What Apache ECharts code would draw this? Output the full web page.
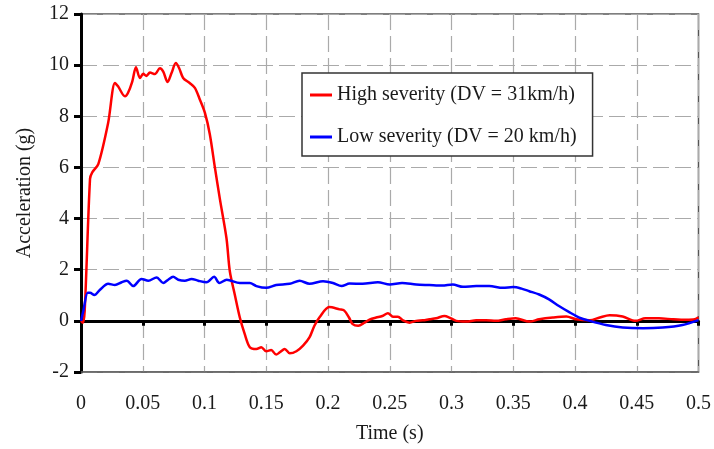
<!DOCTYPE html>
<html>
<head>
<meta charset="utf-8">
<script src="https://cdn.jsdelivr.net/npm/echarts@6/dist/echarts.min.js"></script>
<style>
  html, body { margin: 0; padding: 0; background: #fff; }
  #chart { width: 714px; height: 449px; }
</style>
</head>
<body>
<div id="chart"></div>
<script>
// [time (s), acceleration (g)]
const highSeverity = [
  [0, 0], [0.0015, -0.07], [0.003, 0.4], [0.0073, 5.55], [0.0091, 5.81], [0.014, 6.13],
  [0.022, 7.75], [0.0275, 9.3], [0.03, 9.17], [0.0356, 8.78], [0.038, 8.91], [0.0415, 9.36],
  [0.0445, 9.92], [0.0477, 9.5], [0.0504, 9.66], [0.053, 9.58], [0.0558, 9.71], [0.0598, 9.65],
  [0.0639, 9.88], [0.0666, 9.75], [0.0701, 9.34], [0.0733, 9.69], [0.0768, 10.08], [0.0795, 9.88],
  [0.0827, 9.5], [0.088, 9.3], [0.0922, 9.11], [0.0962, 8.66], [0.1003, 8.14], [0.1043, 7.3],
  [0.1084, 6.0], [0.1124, 4.78], [0.1178, 3.23], [0.1205, 1.94], [0.1245, 1.03], [0.1286, 0.13],
  [0.1326, -0.52], [0.1367, -1.03], [0.142, -1.1], [0.146, -1.03], [0.15, -1.19], [0.154, -1.14],
  [0.158, -1.32], [0.161, -1.23], [0.165, -1.1], [0.169, -1.27], [0.1744, -1.19], [0.1798, -0.97],
  [0.185, -0.65], [0.189, -0.19], [0.1933, 0.15], [0.201, 0.54], [0.2094, 0.45], [0.213, 0.41],
  [0.217, 0.13], [0.22, -0.13], [0.2245, -0.19], [0.2296, -0.07], [0.234, 0.06], [0.239, 0.13],
  [0.244, 0.19], [0.2485, 0.3], [0.2526, 0.16], [0.2566, 0.16], [0.2607, 0.02], [0.266, -0.07],
  [0.2714, 0], [0.2768, 0.02], [0.282, 0.06], [0.2876, 0.1], [0.2943, 0.19], [0.2983, 0.13],
  [0.3038, 0], [0.312, -0.03], [0.32, 0.02], [0.328, 0.02], [0.336, 0], [0.344, 0.06],
  [0.352, 0.1], [0.363, -0.03], [0.371, 0.06], [0.382, 0.13], [0.393, 0.17], [0.401, 0.06],
  [0.412, 0.02], [0.42, 0.13], [0.428, 0.22], [0.4386, 0.17], [0.449, 0], [0.457, 0.1],
  [0.468, 0.1], [0.4796, 0.06], [0.49, 0.04], [0.497, 0.06], [0.5, 0.14]
];
const lowSeverity = [
  [0, 0], [0.0019, 0.39], [0.0054, 1.1], [0.0073, 1.1], [0.0108, 1.01], [0.0154, 1.22],
  [0.022, 1.45], [0.0275, 1.4], [0.0329, 1.51], [0.037, 1.57], [0.0423, 1.36], [0.049, 1.64],
  [0.0545, 1.57], [0.0612, 1.7], [0.0666, 1.48], [0.0706, 1.61], [0.0746, 1.72], [0.0787, 1.61],
  [0.0841, 1.57], [0.0895, 1.64], [0.0949, 1.57], [0.1016, 1.51], [0.1078, 1.72], [0.112, 1.48],
  [0.118, 1.61], [0.1286, 1.48], [0.1367, 1.48], [0.142, 1.36], [0.15, 1.29], [0.158, 1.4],
  [0.169, 1.45], [0.177, 1.57], [0.185, 1.45], [0.196, 1.55], [0.204, 1.48], [0.211, 1.36],
  [0.2175, 1.46], [0.228, 1.45], [0.2404, 1.51], [0.25, 1.42], [0.26, 1.48], [0.2714, 1.42],
  [0.282, 1.4], [0.2925, 1.38], [0.301, 1.42], [0.3093, 1.33], [0.32, 1.36], [0.3306, 1.36],
  [0.3415, 1.29], [0.35, 1.32], [0.3567, 1.26], [0.363, 1.16], [0.371, 1.03], [0.379, 0.84],
  [0.387, 0.58], [0.395, 0.35], [0.4035, 0.13], [0.412, 0], [0.425, -0.16], [0.4386, -0.26],
  [0.455, -0.29], [0.471, -0.26], [0.487, -0.16], [0.5, 0.03]
];
const seriesNames = ['High severity (DV = 31km/h)', 'Low severity (DV = 20 km/h)'];

const serif = '"Liberation Serif", "DejaVu Serif", serif';
const chart = echarts.init(document.getElementById('chart'));

const option = {
  backgroundColor: '#fff',
  animation: false,
  textStyle: { fontFamily: serif, color: '#1a1a1a' },
  grid: {
    left: 81, right: 15, top: 14, bottom: 74,
    show: true, borderColor: '#555', borderWidth: 1.5, backgroundColor: 'transparent'
  },
  legend: {
    orient: 'vertical',
    left: 302, top: 73,
    padding: [12, 16, 9, 8],
    itemGap: 22,
    itemWidth: 22, itemHeight: 3,
    icon: 'rect',
    backgroundColor: '#fff',
    borderColor: '#333', borderWidth: 1.5,
    textStyle: { fontFamily: serif, fontSize: 20, color: '#1a1a1a' },
    data: seriesNames
  },
  xAxis: [
    {
      type: 'value', min: 0, max: 0.5, interval: 0.05,
      name: 'Time (s)', nameLocation: 'middle', nameGap: 52,
      nameTextStyle: { fontFamily: serif, fontSize: 20, color: '#1a1a1a' },
      axisLine: { onZero: false, lineStyle: { color: '#666', width: 1.5 } },
      axisTick: { show: false },
      axisLabel: { margin: 22, fontSize: 20, fontFamily: serif, color: '#1a1a1a' },
      splitLine: { show: true, lineStyle: { color: '#aaa', width: 1.2, type: [16, 6] } }
    },
    {
      type: 'value', min: 0, max: 0.5, interval: 0.05, position: 'bottom',
      axisLine: { onZero: true, lineStyle: { color: '#000', width: 3 } },
      axisTick: { show: true, length: 5, lineStyle: { color: '#000', width: 3 } },
      axisLabel: { show: false },
      splitLine: { show: false }
    }
  ],
  yAxis: {
    type: 'value', min: -2, max: 12, interval: 2,
    name: 'Acceleration (g)', nameLocation: 'middle', nameGap: 46,
    nameTextStyle: { fontFamily: serif, fontSize: 20, color: '#1a1a1a' },
    axisLine: { show: true, lineStyle: { color: '#000', width: 3 } },
    axisTick: { show: true, length: 7, lineStyle: { color: '#000', width: 3 } },
    axisLabel: { margin: 12, fontSize: 20, fontFamily: serif, color: '#1a1a1a' },
    splitLine: { show: true, lineStyle: { color: '#aaa', width: 1.2, type: [16, 6] } }
  },
  series: [
    {
      name: seriesNames[0], type: 'line', data: highSeverity,
      showSymbol: false, smooth: 0.3, z: 3,
      itemStyle: { color: '#ff0000' },
      lineStyle: { color: '#ff0000', width: 2.5 }
    },
    {
      name: seriesNames[1], type: 'line', data: lowSeverity,
      showSymbol: false, smooth: 0.3, z: 4,
      itemStyle: { color: '#0000ff' },
      lineStyle: { color: '#0000ff', width: 2.5 }
    }
  ]
};
chart.setOption(option);
</script>
</body>
</html>
